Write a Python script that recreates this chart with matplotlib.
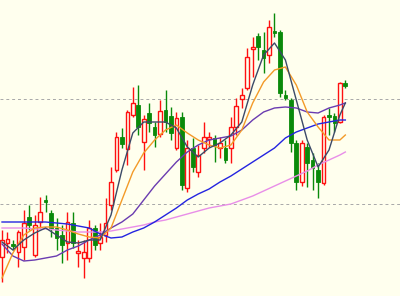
import numpy as np
import matplotlib
matplotlib.use("Agg")
import matplotlib.pyplot as plt
from matplotlib.patches import Rectangle

# OHLC of each candle (arbitrary price units)
opens = [43, 57, 56, 48, 53, 83, 45, 78, 100, 87, 72, 65, 57, 77, 47, 42, 42, 72, 57, 65,
         95, 130, 163, 151, 185, 195, 158, 187, 173, 166, 190, 184, 152, 183, 112, 152, 128, 152, 161, 162,
         152, 152, 152, 173, 201, 212, 251, 264, 250, 245, 269, 268, 205, 200, 157, 118, 153, 140, 130, 117,
         185, 184, 178, 217]
highs = [70, 68, 60, 70, 90, 95, 85, 103, 105, 90, 82, 75, 88, 88, 60, 60, 80, 75, 77, 102,
         133, 168, 172, 190, 213, 215, 185, 197, 178, 200, 210, 193, 188, 188, 160, 162, 155, 178, 168, 165,
         163, 160, 183, 202, 212, 252, 263, 267, 268, 280, 287, 270, 210, 202, 160, 160, 157, 147, 137, 185,
         192, 187, 218, 220]
lows = [18, 47, 50, 33, 40, 70, 43, 72, 88, 63, 50, 37, 40, 52, 33, 22, 38, 50, 50, 58,
        90, 128, 152, 135, 183, 165, 130, 168, 153, 163, 168, 160, 150, 110, 108, 128, 123, 147, 153, 138,
        142, 137, 137, 165, 192, 210, 223, 240, 227, 237, 263, 203, 200, 148, 110, 114, 113, 110, 102, 115,
        165, 168, 177, 212]
closes = [60, 61, 54, 68, 77, 75, 75, 88, 98, 72, 62, 55, 78, 57, 49, 48, 72, 55, 63, 77,
          118, 163, 156, 188, 197, 173, 181, 177, 165, 189, 178, 167, 182, 115, 152, 133, 145, 163, 163, 155,
          157, 140, 173, 194, 205, 243, 253, 253, 242, 273, 267, 207, 202, 157, 118, 157, 137, 132, 118, 183,
          183, 177, 217, 214]

# moving average lines, read every second candle
ma_idx = list(range(0, 64, 2)) + [63]
ma_dark = [58, 50, 60, 67, 72, 65, 58, 57, 60, 60, 85, 130, 167, 178, 178, 178, 172, 153, 143, 152,
           157, 165, 178, 215, 245, 257, 240, 200, 160, 133, 150, 185, 197]
ma_orange = [22, 47, 65, 72, 73, 73, 70, 66, 63, 62, 72, 100, 128, 147, 160, 170, 175, 167, 160, 155,
             152, 155, 170, 197, 218, 230, 233, 215, 188, 173, 160, 160, 165]
ma_purple = [56, 44, 39, 40, 42, 44, 50, 54, 60, 65, 72, 78, 86, 100, 114, 126, 138, 148, 155, 160,
             162, 164, 170, 180, 188, 192, 193, 192, 188, 187, 192, 195, 197]
ma_blue = [78, 78, 78, 78, 78, 77, 76, 74, 72, 66, 62, 63, 68, 72, 78, 85, 92, 100, 106, 111,
           118, 124, 131, 138, 145, 152, 162, 168, 172, 176, 178, 180, 180]
ma_pink = [72, 72, 72, 71, 71, 70, 69, 68, 68, 68, 69, 71, 73, 75, 78, 80, 83, 86, 89, 92,
           94, 96, 100, 104, 109, 114, 119, 124, 129, 135, 140, 145, 148]

levels = [201, 96]

bg = "#ffffee"
up_col = "#ff1010"
down_col = "#0a8a0a"

fig = plt.figure(figsize=(4, 2.96), dpi=100, facecolor=bg)
ax = fig.add_axes([0, 0, 1, 1])
ax.set_facecolor(bg)

for lv in levels:
    ax.axhline(lv, color="#a8a8a8", lw=0.7, ls=(0, (3, 3)), zorder=1)

w = 0.68
for i in range(len(opens)):
    o, h, l, c = opens[i], highs[i], lows[i], closes[i]
    top, bot = max(o, c), min(o, c)
    if c >= o:
        ax.vlines(i, top, h, color=up_col, lw=1.0, zorder=2)
        ax.vlines(i, l, bot, color=up_col, lw=1.0, zorder=2)
        ax.add_patch(Rectangle((i - w / 2, bot), w, max(top - bot, 0.8),
                               facecolor=bg, edgecolor=up_col, lw=1.0, zorder=3))
    else:
        ax.vlines(i, l, h, color=down_col, lw=1.0, zorder=2)
        ax.add_patch(Rectangle((i - w / 2, bot), w, max(top - bot, 0.8),
                               facecolor=down_col, edgecolor=down_col, lw=0.6, zorder=3))

ax.plot(ma_idx, ma_pink, color="#e88ee8", lw=1.0, zorder=4)
ax.plot(ma_idx, ma_blue, color="#2424e0", lw=1.0, zorder=4)
ax.plot(ma_idx, ma_purple, color="#6a3cb0", lw=1.0, zorder=4)
ax.plot(ma_idx, ma_orange, color="#f39a28", lw=1.0, zorder=4)
ax.plot(ma_idx, ma_dark, color="#3c4a68", lw=1.0, zorder=4)

ax.set_xlim(-0.37, 73.03)
ax.set_ylim(4, 300)
ax.axis("off")

fig.savefig("out.png", dpi=100, facecolor=bg)
